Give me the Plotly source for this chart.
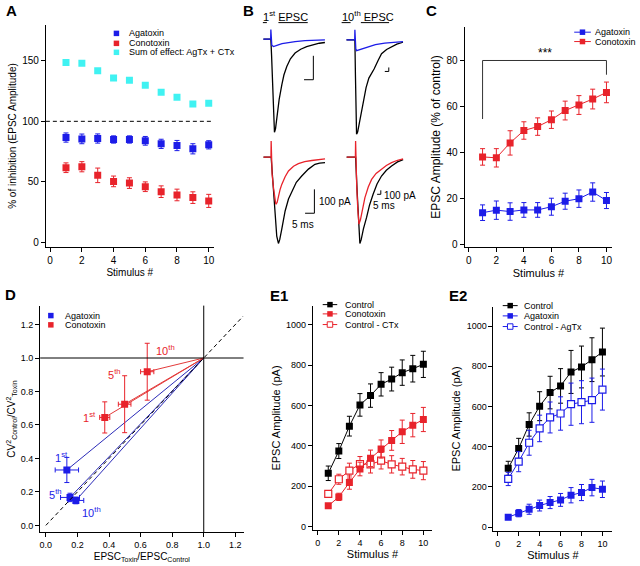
import plotly.graph_objects as go

W, H = 640, 566
FONT = "Liberation Sans, Arial, sans-serif"


def fx(px):
    return px / W


def fy(py):
    return 1 - py / H


BLUE = "#1c1ce8"
RED = "#e8232b"
CYAN = "#40f2f2"
BLACK = "#000000"
DBLUE = "#2b2bb8"
DRED = "#e33a3a"

stimulus = [1, 2, 3, 4, 5, 6, 7, 8, 9, 10]

# ---------------- Panel A : % of inhibition ----------------
a_agatoxin = [86.6, 85.5, 85.8, 85.0, 85.0, 83.9, 81.4, 80.0, 77.3, 80.6]
a_agatoxin_err = [3.8, 4.0, 3.8, 3.0, 3.0, 3.6, 3.8, 4.2, 4.2, 3.4]
a_conotoxin = [61.7, 62.5, 55.4, 50.4, 49.0, 46.0, 41.9, 39.2, 37.0, 34.3]
a_conotoxin_err = [4.0, 4.2, 6.0, 4.4, 4.4, 4.0, 4.8, 4.8, 4.8, 5.4]
a_sum = [148.6, 148.0, 141.7, 135.7, 134.0, 129.7, 123.9, 119.8, 114.3, 114.9]

# ---------------- Panel C : EPSC amplitude % control ----------------
c_agatoxin = [13.7, 14.8, 14.2, 14.9, 14.9, 16.3, 18.7, 19.8, 22.7, 19.0]
c_agatoxin_err = [3.4, 4.0, 3.8, 3.2, 3.2, 3.7, 3.5, 3.8, 4.0, 3.5]
c_conotoxin = [38.0, 37.6, 44.1, 49.5, 51.2, 54.2, 58.2, 60.6, 63.2, 66.1]
c_conotoxin_err = [3.6, 4.0, 5.3, 3.8, 3.8, 3.8, 4.1, 4.1, 4.3, 4.5]

# ---------------- Panel D : CV analysis ----------------
d_labels = ["1<sup>st</sup>", "5<sup>th</sup>", "10<sup>th</sup>"]
d_aga_x = [0.133, 0.153, 0.190]
d_aga_y = [0.331, 0.167, 0.149]
d_aga_xerr = [0.074, 0.060, 0.050]
d_aga_yerr = [0.075, 0.025, 0.020]
d_cono_x = [0.373, 0.499, 0.642]
d_cono_y = [0.645, 0.724, 0.918]
d_cono_xerr = [0.032, 0.040, 0.042]
d_cono_yerr = [0.093, 0.170, 0.170]

# ---------------- Panel E1 ----------------
e1_control = [263.6, 374.0, 497.5, 603.0, 649.0, 705.0, 731.0, 763.0, 782.5, 804.0]
e1_control_err = [36, 37, 49, 56, 58, 58, 59, 63, 66, 65]
e1_conotoxin = [102.0, 146.6, 217.5, 285.0, 337.7, 383.9, 426.7, 469.5, 502.5, 530.5]
e1_conotoxin_err = [10, 18, 33, 34, 41, 45, 49, 58, 58, 60]
e1_ctrl_minus_ctx = [161.4, 234.0, 276.8, 309.7, 308.0, 326.0, 308.0, 296.5, 283.0, 276.8]
e1_ctrl_minus_ctx_err = [15, 25, 37, 37, 43, 41, 43, 41, 44, 45]

# ---------------- Panel E2 ----------------
e2_control = [292.6, 391.7, 510.7, 601.7, 669.4, 702.5, 772.0, 796.7, 833.0, 871.0]
e2_control_err = [35, 50, 58, 72, 81, 86, 107, 104, 109, 119]
e2_agatoxin = [49.6, 69.4, 89.0, 107.4, 122.3, 135.5, 158.7, 172.0, 196.7, 188.4]
e2_agatoxin_err = [12, 18, 25, 27, 30, 32, 38, 40, 41, 41]
e2_ctrl_minus_agtx = [239.7, 325.6, 419.8, 491.0, 545.5, 565.3, 611.6, 621.5, 631.4, 684.3]
e2_ctrl_minus_agtx_err = [33, 50, 62, 66, 77, 83, 105, 107, 110, 102]

# ---------------- Panel B : example traces (ms, pA) ----------------
b1_ctrl_t = [-4.0, 0.0, 0.4, 0.9, 1.4, 1.93, 2.5, 3.2, 4.44, 5.9, 7.0, 8.55, 10.5, 13.0, 16.0, 19.2, 23.0, 26.0, 29.0]
b1_ctrl_i = [0, 0, -70, -210, -330, -389, -375, -330, -253, -190, -150, -114, -82, -58, -42, -31, -22, -17, -14]
b1_aga_t = [-4.0, -0.1, 0.0, 0.15, 0.5, 1.4, 2.5, 4.0, 6.0, 9.4, 13.0, 18.3, 23.0, 29.0]
b1_aga_i = [0, 0, 40, -5, -25, -31, -29, -24, -19, -14, -10, -6, -4, -3]

b2_ctrl_t = [-4.5, 0.0, 0.3, 0.6, 0.9, 1.5, 2.5, 3.5, 4.5, 6.0, 7.5, 10.3, 12.5, 14.3, 17.0, 19.6, 22.5, 25.8]
b2_ctrl_i = [0, 0, -150, -330, -396, -385, -345, -295, -250, -200, -160, -122, -85, -58, -40, -28, -18, -10]
b2_aga_t = [-4.5, -0.1, 0.0, 0.15, 0.5, 0.9, 2.0, 4.0, 7.1, 11.0, 16.0, 21.0, 25.8]
b2_aga_i = [0, 0, 42, -20, -38, -45, -42, -36, -28, -20, -14, -9, -7]

b3_ctrl_t = [-4.1, 0.0, 1.0, 2.0, 3.0, 3.9, 4.6, 5.7, 7.5, 9.3, 11.1, 13.5, 16.4, 20.0, 23.5, 26.0, 28.9]
b3_ctrl_i = [0, 0, -110, -230, -330, -361, -345, -301, -225, -175, -142, -105, -79, -50, -30, -25, -23]
b3_cono_t = [-4.1, -0.1, 0.0, 0.15, 0.5, 1.2, 1.8, 2.5, 3.2, 3.9, 4.8, 5.7, 7.5, 9.3, 12.0, 14.6, 18.0, 21.8, 25.0, 28.9]
b3_cono_i = [0, 0, 67, -44, -70, -125, -170, -197, -190, -162, -135, -114, -82, -58, -38, -27.5, -19, -14, -10, -7]

b4_ctrl_t = [-4.8, 0.0, 0.8, 1.6, 2.3, 3.0, 4.2, 5.9, 7.5, 9.4, 11.5, 13.9, 16.5, 19.3, 22.5, 25.5]
b4_ctrl_i = [0, 0, -140, -300, -361, -345, -300, -252, -200, -155, -112, -79, -55, -37, -20, -10]
b4_cono_t = [-4.8, -0.1, 0.0, 0.15, 0.6, 1.2, 1.8, 2.6, 3.8, 5.0, 6.8, 8.6, 11.0, 13.9, 16.5, 19.3, 22.5, 25.5]
b4_cono_i = [0, 0, 67, -30, -120, -220, -280, -262, -215, -169, -125, -93, -68, -51, -35, -23, -13, -7]

fig = go.Figure()

MS = 7


def err(arr, color):
    return dict(type="data", array=arr, color=color, thickness=1, width=2.5)


# ---- A ----
fig.add_trace(go.Scatter(x=stimulus, y=a_sum, mode="markers", xaxis="x", yaxis="y",
                         marker=dict(symbol="square", size=MS, color=CYAN), name="Sum of effect: AgTx + CTx"))
fig.add_trace(go.Scatter(x=stimulus, y=a_agatoxin, mode="markers", xaxis="x", yaxis="y",
                         error_y=err(a_agatoxin_err, BLUE),
                         marker=dict(symbol="square", size=MS, color=BLUE), name="Agatoxin"))
fig.add_trace(go.Scatter(x=stimulus, y=a_conotoxin, mode="markers", xaxis="x", yaxis="y",
                         error_y=err(a_conotoxin_err, RED),
                         marker=dict(symbol="square", size=MS, color=RED), name="Conotoxin"))

# ---- C ----
fig.add_trace(go.Scatter(x=stimulus, y=c_agatoxin, mode="lines+markers", xaxis="x2", yaxis="y2",
                         line=dict(color=BLUE, width=1), error_y=err(c_agatoxin_err, BLUE),
                         marker=dict(symbol="square", size=MS, color=BLUE), name="Agatoxin"))
fig.add_trace(go.Scatter(x=stimulus, y=c_conotoxin, mode="lines+markers", xaxis="x2", yaxis="y2",
                         line=dict(color=RED, width=1), error_y=err(c_conotoxin_err, RED),
                         marker=dict(symbol="square", size=MS, color=RED), name="Conotoxin"))

# ---- D ----
for xs, ys, col in ((d_aga_x, d_aga_y, DBLUE), (d_cono_x, d_cono_y, DRED)):
    for xv, yv in zip(xs, ys):
        fig.add_trace(go.Scatter(x=[xv, 1.0], y=[yv, 1.0], mode="lines", xaxis="x3", yaxis="y3",
                                 line=dict(color=col, width=1), showlegend=False))
fig.add_trace(go.Scatter(x=d_aga_x, y=d_aga_y, mode="markers", xaxis="x3", yaxis="y3",
                         error_x=err(d_aga_xerr, BLUE), error_y=err(d_aga_yerr, BLUE),
                         marker=dict(symbol="square", size=MS, color=BLUE), name="Agatoxin"))
fig.add_trace(go.Scatter(x=d_cono_x, y=d_cono_y, mode="markers", xaxis="x3", yaxis="y3",
                         error_x=err(d_cono_xerr, RED), error_y=err(d_cono_yerr, RED),
                         marker=dict(symbol="square", size=MS, color=RED), name="Conotoxin"))

# ---- E1 ----
fig.add_trace(go.Scatter(x=stimulus, y=e1_ctrl_minus_ctx, mode="lines+markers", xaxis="x4", yaxis="y4",
                         line=dict(color=RED, width=1), error_y=err(e1_ctrl_minus_ctx_err, RED),
                         marker=dict(symbol="square", size=MS, color="white", line=dict(color=RED, width=1.2)),
                         name="Control - CTx"))
fig.add_trace(go.Scatter(x=stimulus, y=e1_conotoxin, mode="lines+markers", xaxis="x4", yaxis="y4",
                         line=dict(color=RED, width=1), error_y=err(e1_conotoxin_err, RED),
                         marker=dict(symbol="square", size=MS, color=RED), name="Conotoxin"))
fig.add_trace(go.Scatter(x=stimulus, y=e1_control, mode="lines+markers", xaxis="x4", yaxis="y4",
                         line=dict(color=BLACK, width=1), error_y=err(e1_control_err, BLACK),
                         marker=dict(symbol="square", size=MS, color=BLACK), name="Control"))

# ---- E2 ----
fig.add_trace(go.Scatter(x=stimulus, y=e2_control, mode="lines+markers", xaxis="x5", yaxis="y5",
                         line=dict(color=BLACK, width=1), error_y=err(e2_control_err, BLACK),
                         marker=dict(symbol="square", size=MS, color=BLACK), name="Control"))
fig.add_trace(go.Scatter(x=stimulus, y=e2_ctrl_minus_agtx, mode="lines+markers", xaxis="x5", yaxis="y5",
                         line=dict(color=BLUE, width=1), error_y=err(e2_ctrl_minus_agtx_err, BLUE),
                         marker=dict(symbol="square", size=MS, color="white", line=dict(color=BLUE, width=1.2)),
                         name="Control - AgTx"))
fig.add_trace(go.Scatter(x=stimulus, y=e2_agatoxin, mode="lines+markers", xaxis="x5", yaxis="y5",
                         line=dict(color=BLUE, width=1), error_y=err(e2_agatoxin_err, BLUE),
                         marker=dict(symbol="square", size=MS, color=BLUE), name="Agatoxin"))

# ---- B traces ----
trace_sets = [
    ("x6", "y6", b1_ctrl_t, b1_ctrl_i, BLACK), ("x6", "y6", b1_aga_t, b1_aga_i, BLUE),
    ("x7", "y7", b2_ctrl_t, b2_ctrl_i, BLACK), ("x7", "y7", b2_aga_t, b2_aga_i, BLUE),
    ("x8", "y8", b3_ctrl_t, b3_ctrl_i, BLACK), ("x8", "y8", b3_cono_t, b3_cono_i, RED),
    ("x9", "y9", b4_ctrl_t, b4_ctrl_i, BLACK), ("x9", "y9", b4_cono_t, b4_cono_i, RED),
]
for xa, ya, t, i, col in trace_sets:
    fig.add_trace(go.Scatter(x=t, y=i, mode="lines", xaxis=xa, yaxis=ya,
                             line=dict(color=col, width=1.3), showlegend=False))


# ---------------- axes ----------------
def axis(px0, px1, rng, anchor, title=None, dtick=None, tickformat=None, standoff=3, visible=True,
         vertical=False, tfs=10, ttfs=10):
    if vertical:
        dom = [fy(px1), fy(px0)]
    else:
        dom = [fx(px0), fx(px1)]
    d = dict(domain=dom, range=rng, anchor=anchor, showgrid=False, zeroline=False, fixedrange=True)
    if not visible:
        d.update(visible=False)
        return d
    d.update(showline=True, linecolor="black", linewidth=1, ticks="outside", ticklen=4,
             tickwidth=1, tickcolor="black", tickfont=dict(size=tfs, color="black"),
             tick0=0, dtick=dtick)
    if tickformat:
        d["tickformat"] = tickformat
    if title:
        d["title"] = dict(text=title, font=dict(size=ttfs, color="black"), standoff=standoff)
    return d


layout = dict(
    width=W, height=H, margin=dict(l=0, r=0, t=0, b=0), showlegend=False,
    plot_bgcolor="white", paper_bgcolor="white",
    font=dict(family=FONT, color="black", size=10),
)
# A
layout["xaxis"] = axis(45, 213.3, [-0.27, 10.31], "y", "Stimulus #", 2, ttfs=10)
layout["yaxis"] = axis(25, 248, [-3.87, 179.6], "x", "% of inhibition (EPSC Amplitude)", 50,
                       vertical=True, ttfs=10)
# C
layout["xaxis2"] = axis(465, 613.3, [-0.31, 10.43], "y2", "Stimulus #", 2, ttfs=11)
layout["yaxis2"] = axis(26.7, 248.3, [-1.43, 94.76], "x2", "EPSC Amplitude (% of control)", 20,
                        vertical=True, ttfs=12)
# D
layout["xaxis3"] = axis(39.3, 243.3, [-0.036, 1.252], "y3",
                        "EPSC<sub>Toxin</sub>/EPSC<sub>Control</sub>", 0.2, ".1f", tfs=9, ttfs=10)
layout["yaxis3"] = axis(306.7, 534.3, [-0.042, 1.313], "x3",
                        "CV<sup>2</sup><sub>Control</sub>/CV<sup>2</sup><sub>Toxin</sub>", 0.2, ".1f",
                        vertical=True, tfs=9, ttfs=10)
# E1
layout["xaxis4"] = axis(312.7, 432.7, [-0.47, 10.85], "y4", "Stimulus #", 2, tfs=9, ttfs=11)
layout["yaxis4"] = axis(306.7, 532.3, [-19.8, 1095.4], "x4", "EPSC Amplitude (pA)", 200,
                        vertical=True, tfs=9, ttfs=11)
# E2
layout["xaxis5"] = axis(494, 613.3, [-0.41, 10.95], "y5", "Stimulus #", 2, tfs=9, ttfs=11)
layout["yaxis5"] = axis(307.7, 533.3, [-21.3, 1097], "x5", "EPSC Amplitude (pA)", 200,
                        vertical=True, tfs=9, ttfs=11)
# B (ms, pA; 1.87 px/ms, 0.24 px/pA)
layout["xaxis6"] = axis(258, 332, [-6.79, 32.78], "y6", visible=False)
layout["yaxis6"] = axis(25, 140, [-419.6, 59.6], "x6", visible=False, vertical=True)
layout["xaxis7"] = axis(340, 410, [-8.02, 29.41], "y7", visible=False)
layout["yaxis7"] = axis(25, 140, [-416.7, 62.5], "x7", visible=False, vertical=True)
layout["xaxis8"] = axis(258, 332, [-6.95, 32.62], "y8", visible=False)
layout["yaxis8"] = axis(135, 250, [-384.6, 94.6], "x8", visible=False, vertical=True)
layout["xaxis9"] = axis(340, 410, [-8.40, 29.04], "y9", visible=False)
layout["yaxis9"] = axis(135, 250, [-384.6, 94.6], "x9", visible=False, vertical=True)

shapes = []
annotations = []


def pline(x0, y0, x1, y1, color="black", width=1, dash=None):
    ln = dict(color=color, width=width)
    if dash:
        ln["dash"] = dash
    shapes.append(dict(type="line", xref="paper", yref="paper", x0=fx(x0), y0=fy(y0),
                       x1=fx(x1), y1=fy(y1), line=ln))


def ptext(x, y, text, size=9, color="black", xanchor="left", yanchor="middle", bold=False):
    if bold:
        text = "<b>" + text + "</b>"
    annotations.append(dict(xref="paper", yref="paper", x=fx(x), y=fy(y), text=text, showarrow=False,
                            xanchor=xanchor, yanchor=yanchor, font=dict(size=size, color=color),
                            borderpad=0))


def psquare(cx, cy, color, s=5.5, open_=False):
    shapes.append(dict(type="rect", xref="paper", yref="paper", x0=fx(cx - s / 2), x1=fx(cx + s / 2),
                       y0=fy(cy + s / 2), y1=fy(cy - s / 2),
                       fillcolor="white" if open_ else color,
                       line=dict(color=color, width=1 if open_ else 0)))


# A dashed 100% line
shapes.append(dict(type="line", xref="x domain", yref="y", x0=0, x1=1, y0=100, y1=100,
                   line=dict(color="black", width=1, dash="4px,3px")))
# C significance bracket
for (x0, y0, x1, y1) in ((1, 54.5, 1, 80), (1, 80, 10, 80), (10, 80, 10, 73.8)):
    shapes.append(dict(type="line", xref="x2", yref="y2", x0=x0, y0=y0, x1=x1, y1=y1,
                       line=dict(color="#333333", width=1)))
annotations.append(dict(xref="x2", yref="y2", x=5.5, y=80, text="***", showarrow=False,
                        yanchor="bottom", font=dict(size=12, color="black"), yshift=-2))
# D reference lines
shapes.append(dict(type="line", xref="x3", yref="y3", x0=0, y0=0, x1=1.25, y1=1.25,
                   line=dict(color="black", width=1, dash="4px,3px")))
shapes.append(dict(type="line", xref="x3", yref="y3 domain", x0=1, x1=1, y0=0, y1=1,
                   line=dict(color="black", width=1)))
shapes.append(dict(type="line", xref="x3 domain", yref="y3", x0=0, x1=1, y0=1, y1=1,
                   line=dict(color="black", width=1)))

# D point labels
aga_shift = [(-5, 13, "center"), (-6, 3, "right"), (4, -12, "left")]
cono_shift = [(-7, 0, "right"), (-2, 30, "right"), (7, 22, "left")]
for k in range(3):
    xs, ys, xa = aga_shift[k]
    annotations.append(dict(xref="x3", yref="y3", x=d_aga_x[k], y=d_aga_y[k], text=d_labels[k],
                            showarrow=False, xanchor=xa, yanchor="middle", xshift=xs, yshift=ys,
                            font=dict(size=11, color=BLUE)))
    xs, ys, xa = cono_shift[k]
    annotations.append(dict(xref="x3", yref="y3", x=d_cono_x[k], y=d_cono_y[k], text=d_labels[k],
                            showarrow=False, xanchor=xa, yanchor="middle", xshift=xs, yshift=ys,
                            font=dict(size=11, color=RED)))

# Legends
LF = 9
# A
psquare(115.8, 33.5, BLUE); ptext(127.7, 33.5, "Agatoxin", LF)
psquare(115.8, 43.5, RED); ptext(127.7, 43.5, "Conotoxin", LF)
psquare(115.8, 52.5, CYAN); ptext(127.7, 52.5, "Sum of effect: AgTx + CTx", LF)
# C
for cy, col, txt in ((32.3, BLUE, "Agatoxin"), (41.7, RED, "Conotoxin")):
    pline(575, cy, 591.7, cy, col)
    psquare(583.3, cy, col)
    ptext(595, cy, txt, LF)
# D
psquare(50, 316.7, BLUE); ptext(63.3, 316.7, "Agatoxin", LF)
psquare(50, 326, RED); ptext(63.3, 326, "Conotoxin", LF)
# E1
for cy, col, txt, op in ((305.7, BLACK, "Control", False), (315, RED, "Conotoxin", False),
                         (325.7, RED, "Control - CTx", True)):
    pline(322.7, cy, 337.3, cy, col)
    psquare(330, cy, col, open_=op)
    ptext(344, cy, txt, LF)
# E2
for cy, col, txt, op in ((306.7, BLACK, "Control", False), (317, BLUE, "Agatoxin", False),
                         (327.7, BLUE, "Control - AgTx", True)):
    pline(503.3, cy, 518.3, cy, col)
    psquare(510.8, cy, col, open_=op)
    ptext(523.3, cy, txt, LF)

# B headers + underlines
ptext(262, 16, "1<sup>st</sup> EPSC", size=11)
ptext(341, 16, "10<sup>th</sup> EPSC", size=11)
pline(262.7, 22.7, 266.7, 22.7)
pline(278.3, 22.7, 307.7, 22.7)
pline(341.7, 22.7, 350.7, 22.7)
pline(361, 22.7, 389.3, 22.7)

# B scale bars (left traces: 5 ms / 100 pA in data units)
for xa, ya, tx, iy in (("x6", "y6", 22.8, -69.6), ("x8", "y8", 23.2, -134.6)):
    shapes.append(dict(type="line", xref=xa, yref=ya, x0=tx, x1=tx, y0=iy, y1=iy - 100,
                       line=dict(color="black", width=1)))
    shapes.append(dict(type="line", xref=xa, yref=ya, x0=tx - 5, x1=tx, y0=iy - 100, y1=iy - 100,
                       line=dict(color="black", width=1)))
# right traces (different scaling)
pline(389, 67.7, 389, 71.7); pline(385, 71.7, 389, 71.7)
pline(381, 191, 381, 195); pline(377.3, 195, 381, 195)
ptext(318, 202, "100 pA", size=10)
ptext(303, 225, "5 ms", size=10, xanchor="center")
ptext(383, 196, "100 pA", size=10)
ptext(372.5, 206, "5 ms", size=10)

# Panel letters
for x, y, t in ((4, 10.5, "A"), (242, 10.5, "B"), (425, 10.5, "C"), (3.3, 295.5, "D"),
                (269.3, 296.5, "E1"), (448.3, 296.5, "E2")):
    ptext(x, y, t, size=15, bold=True)

layout["shapes"] = shapes
layout["annotations"] = annotations
fig.update_layout(**layout)

fig.write_html("out.html", config={"displayModeBar": False},
               post_script="document.body.style.margin='0';document.body.style.overflow='hidden';")
